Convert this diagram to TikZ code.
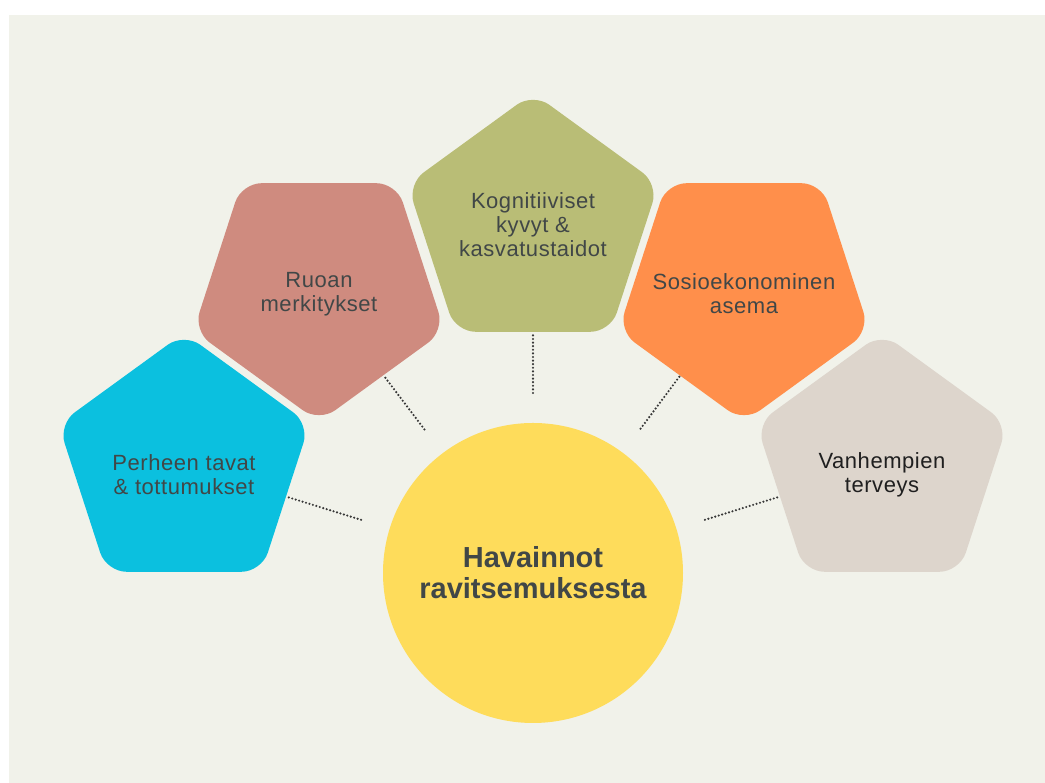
\documentclass[tikz,border=0pt]{standalone}
\usepackage{fontspec}
\setmainfont{Liberation Sans}
\newfontfamily\lbfont[LetterSpace=2.5]{Liberation Sans}
\usetikzlibrary{shapes.geometric,calc}

\definecolor{panel}{HTML}{F1F2EA}
\definecolor{famblue}{HTML}{0BC0DF}
\definecolor{rose}{HTML}{CF8B7F}
\definecolor{olive}{HTML}{B9BD76}
\definecolor{orangec}{HTML}{FF8F4B}
\definecolor{beige}{HTML}{DDD5CC}
\definecolor{sun}{HTML}{FEDC5B}
\definecolor{txt}{HTML}{414747}
\definecolor{dots}{HTML}{383838}

\begin{document}
\begin{tikzpicture}[x=1pt, y=1pt, line join=round, line cap=round,
	penta/.style={regular polygon, regular polygon sides=5, minimum size=264pt,
		inner sep=0pt, outer sep=0pt, rounded corners=20pt},
	down/.style={shape border rotate=180},
	lbl/.style={align=center, text=txt, font=\lbfont\fontsize{22}{24}\selectfont},
	link/.style={draw=dots, line width=2.4pt, dash pattern=on 0pt off 3.6pt}]
	\useasboundingbox (0,0) rectangle (1045,783);
	\fill[white] (0,0) rectangle (1045,783);
	\fill[panel] (9,0) rectangle (1045,768);
	% keskus
	\node[circle, fill=sun, minimum size=300pt, inner sep=0pt, align=center, text=txt,
		font=\bfseries\fontsize{29}{31}\selectfont] (hub) at (533,210)
		{Havainnot\\ravitsemuksesta};
	% viisikulmiot
	\node[penta, fill=famblue] (fam) at (184,318) {};
	\node[penta, down, fill=rose] (mean) at (319,493) {};
	\node[penta, fill=olive] (cogn) at (533,558) {};
	\node[penta, down, fill=orangec] (socio) at (744,493) {};
	\node[penta, fill=beige] (health) at (882,318) {};
	% tekstit
	\node[lbl] (fam-t) at ([yshift=-10pt]fam) {Perheen tavat\\\& tottumukset};
	\node[lbl] (mean-t) at ([yshift=-4pt]mean) {Ruoan\\merkitykset};
	\node[lbl] (cogn-t) at (cogn) {Kognitiiviset\\kyvyt \&\\kasvatustaidot};
	\node[lbl] (socio-t) at ([yshift=-4pt]socio) {Sosioekonominen\\asema};
	\node[lbl, text=black!88] (health-t) at ([yshift=-10pt]health) {Vanhempien\\terveys};
	% pisteviivat
	\foreach \n/\len in {fam/257pt, mean/248pt, cogn/238pt, socio/247pt, health/257pt}
		\draw[link] ($(hub)!180pt!(\n)$) -- ($(hub)!\len!(\n)$);
\end{tikzpicture}
\end{document}
